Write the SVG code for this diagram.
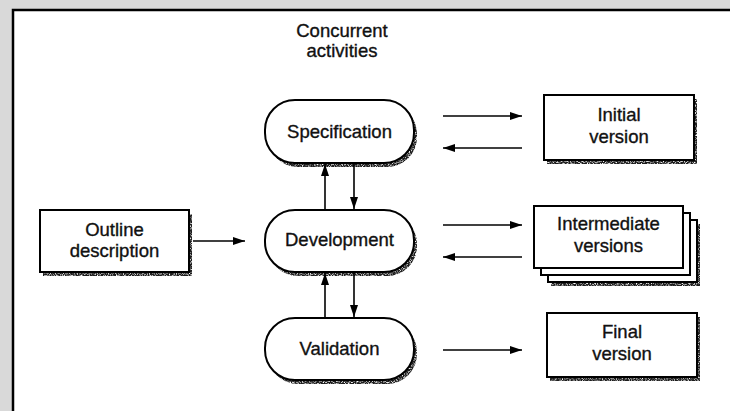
<svg xmlns="http://www.w3.org/2000/svg" width="730" height="411" viewBox="0 0 730 411">
  <style>
    .lbl { font-family: "Liberation Sans", Arial, sans-serif; font-size: 18.5px; fill: #111; stroke: #111; stroke-width: 0.35; text-anchor: middle; }
    .box { fill: #fff; stroke: #000; stroke-width: 2; }
    .shadow { fill: #1a1a1a; filter: url(#grain); }
    .link { fill: none; stroke: #000; stroke-width: 1.6; marker-end: url(#arrow); }
  </style>
  <defs>
    <!-- speckled print-style drop shadow -->
    <filter id="grain" x="-10%" y="-10%" width="120%" height="130%">
      <feTurbulence type="fractalNoise" baseFrequency="0.85" numOctaves="1" seed="7" result="noise"/>
      <feColorMatrix in="noise" type="matrix" values="0 0 0 0 0  0 0 0 0 0  0 0 0 0 0  3.2 0 0 0 -0.8" result="mask"/>
      <feComposite in="SourceGraphic" in2="mask" operator="in"/>
    </filter>
    <marker id="arrow" viewBox="0 0 12 8" refX="12" refY="4" markerWidth="12" markerHeight="8" markerUnits="userSpaceOnUse" orient="auto">
      <path d="M0,0 L12,4 L0,8 Z" fill="#000"/>
    </marker>
  </defs>

  <!-- page background and frame -->
  <rect x="0" y="0" width="730" height="411" fill="#d9d9d9"/>
  <rect x="13" y="10" width="730" height="410" fill="#fff" stroke="#000" stroke-width="2.5"/>

  <!-- heading -->
  <g id="heading">
    <text class="lbl" x="342" y="37">Concurrent</text>
    <text class="lbl" x="342" y="57">activities</text>
  </g>

  <!-- source -->
  <g id="outline">
    <rect class="shadow" x="43" y="214" width="149" height="62"/>
    <rect class="box" x="40" y="210" width="149" height="62"/>
    <text class="lbl" x="114.5" y="236">Outline</text>
    <text class="lbl" x="114.5" y="257">description</text>
  </g>

  <!-- concurrent activities -->
  <g id="specification">
    <rect class="shadow" x="268" y="104" width="149" height="63" rx="30"/>
    <rect class="box" x="265" y="100" width="149" height="63" rx="30"/>
    <text class="lbl" x="339.5" y="138">Specification</text>
  </g>
  <g id="development">
    <rect class="shadow" x="268" y="214" width="149" height="62" rx="30"/>
    <rect class="box" x="265" y="210" width="149" height="62" rx="30"/>
    <text class="lbl" x="339.5" y="246">Development</text>
  </g>
  <g id="validation">
    <rect class="shadow" x="268" y="322" width="149" height="62" rx="30"/>
    <rect class="box" x="265" y="318" width="149" height="62" rx="30"/>
    <text class="lbl" x="339.5" y="355">Validation</text>
  </g>

  <!-- versions -->
  <g id="initial">
    <rect class="shadow" x="547" y="99" width="150" height="65"/>
    <rect class="box" x="544" y="95" width="150" height="65"/>
    <text class="lbl" x="619" y="121">Initial</text>
    <text class="lbl" x="619" y="143">version</text>
  </g>
  <g id="intermediate">
    <rect class="shadow" x="551" y="224" width="149" height="62"/>
    <rect class="box" x="548" y="220" width="149" height="62"/>
    <rect class="box" x="541" y="213" width="149" height="62"/>
    <rect class="box" x="534" y="206" width="149" height="62"/>
    <text class="lbl" x="608.5" y="230">Intermediate</text>
    <text class="lbl" x="608.5" y="252">versions</text>
  </g>
  <g id="final">
    <rect class="shadow" x="550" y="317" width="150" height="64"/>
    <rect class="box" x="547" y="313" width="150" height="64"/>
    <text class="lbl" x="622" y="338">Final</text>
    <text class="lbl" x="622" y="360">version</text>
  </g>

  <!-- connectors -->
  <g id="connectors">
    <line class="link" x1="193" y1="241" x2="245" y2="241"/>
    <line class="link" x1="325" y1="210" x2="325" y2="164"/>
    <line class="link" x1="354" y1="164" x2="354" y2="209"/>
    <line class="link" x1="325" y1="318" x2="325" y2="273"/>
    <line class="link" x1="354" y1="273" x2="354" y2="317"/>
    <line class="link" x1="443" y1="116" x2="522" y2="116"/>
    <line class="link" x1="522" y1="148" x2="443" y2="148"/>
    <line class="link" x1="443" y1="225" x2="522" y2="225"/>
    <line class="link" x1="522" y1="257" x2="443" y2="257"/>
    <line class="link" x1="443" y1="350" x2="522" y2="350"/>
  </g>
</svg>
